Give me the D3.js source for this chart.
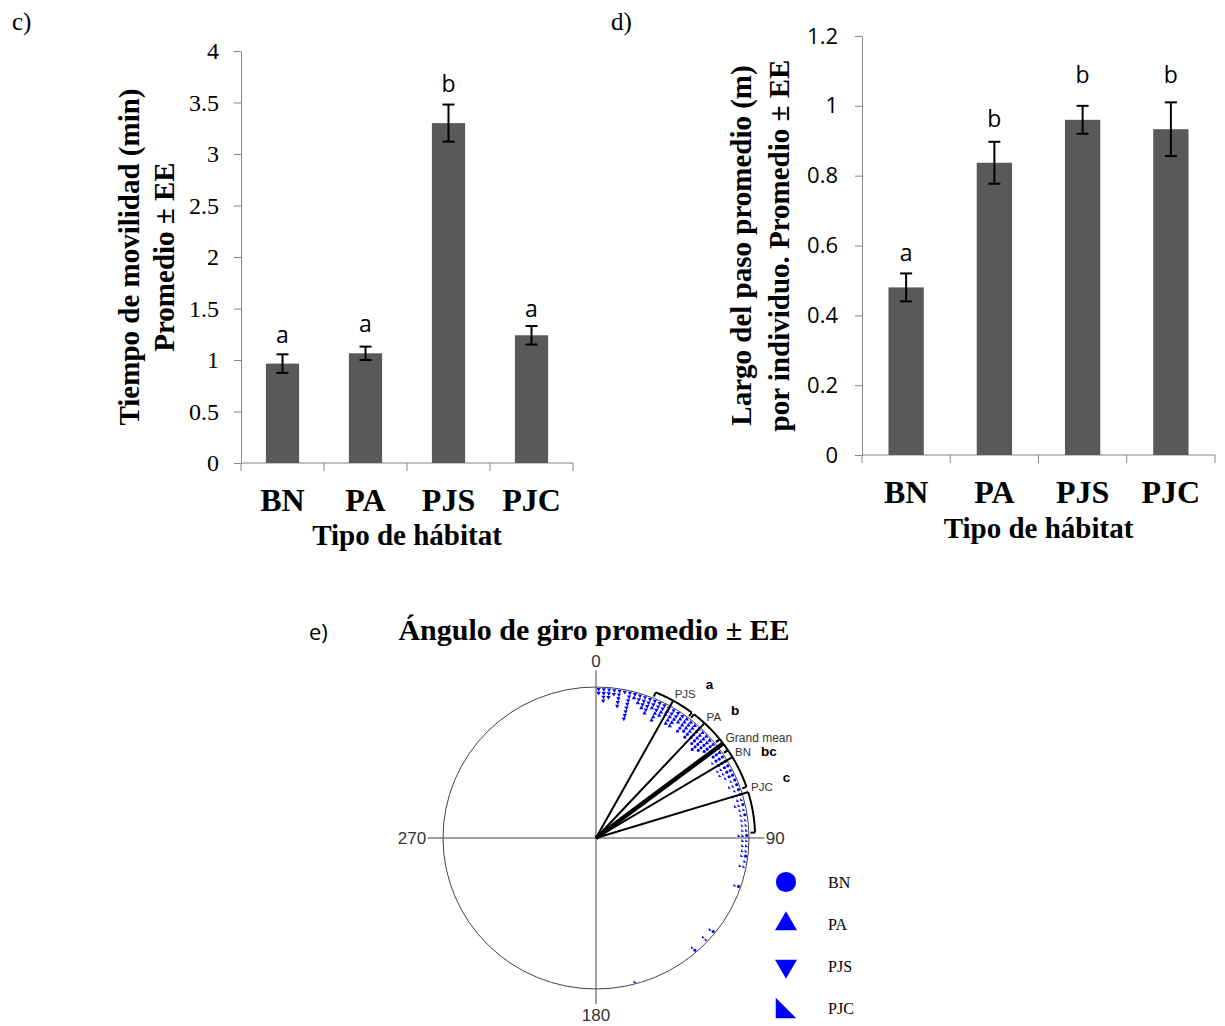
<!DOCTYPE html>
<html lang="es">
<head>
<meta charset="UTF-8">
<title>Movilidad por tipo de hábitat</title>
<script src="https://cdn.jsdelivr.net/npm/d3@7"></script>
<style>
  body { margin: 0; background: #fff; }
  svg { display: block; }
  .serif { font-family: "Liberation Serif", "Times New Roman", serif; }
  .sans { font-family: "Liberation Sans", Arial, sans-serif; }
  .calibri { font-family: "Open Sans", "Liberation Sans", sans-serif; }
</style>
</head>
<body>
<svg id="fig" width="1225" height="1026"></svg>
<script>
const habitats = ["BN", "PA", "PJS", "PJC"];

// c) tiempo de movilidad (min)
const timeMean = [0.965, 1.065, 3.3, 1.24];
const timeSE = [0.09, 0.065, 0.18, 0.09];
const timeLetters = ["a", "a", "b", "a"];
const timeLetterAt = [1.165, 1.27, 3.6, 1.42];
const timeTicks = [0, 0.5, 1, 1.5, 2, 2.5, 3, 3.5, 4];

// d) largo del paso (m)
const stepMean = [0.48, 0.837, 0.96, 0.933];
const stepSE = [0.04, 0.06, 0.04, 0.077];
const stepLetters = ["a", "b", "b", "b"];
const stepLetterAt = [0.555, 0.94, 1.065, 1.065];
const stepTicks = [0, 0.2, 0.4, 0.6, 0.8, 1, 1.2];

// e) ángulo de giro (grados)
const meanNames = ["PJS", "PA", "Grand mean", "BN", "PJC"];
const meanAngle = [29, 43, 53, 59, 73];
const seFrom = [22, 38, 51, 56, 73];
const seTo = [37, 51, 56, 71, 88];
const meanLetters = ["a", "b", "", "bc", "c"];
const compassTicks = [0, 90, 180, 270];

// individual turning angles
const anglesPJS = [1, 1, 3, 3, 3, 3, 5, 5, 5, 7, 7, 9, 9, 9, 9, 9, 11, 13, 13, 13, 13, 13, 13, 13, 13, 15, 17, 17, 19, 19, 19, 21, 21, 21, 21, 23, 23, 25, 25, 25, 27, 27, 29, 31, 31, 33, 33, 35];
const anglesPA = [15, 17, 19, 21, 23, 25, 25, 25, 27, 27, 29, 29, 31, 31, 31, 33, 33, 33, 35, 35, 37, 37, 37, 39, 39, 39, 41, 41, 41, 43, 43, 45, 45, 45, 47, 47, 47, 49, 49, 51, 53, 55];
const anglesBN = [37, 37, 39, 41, 41, 43, 43, 45, 45, 47, 47, 47, 49, 49, 49, 51, 51, 51, 53, 53, 55, 55, 57, 57, 57, 59, 59, 59, 61, 61, 63, 63, 65, 65, 67, 69, 71, 73, 77, 81, 89, 97, 109, 129, 139];
const anglesPJC = [53, 57, 61, 61, 63, 63, 65, 67, 69, 69, 71, 73, 73, 75, 75, 77, 77, 79, 79, 81, 83, 83, 85, 85, 87, 87, 89, 89, 91, 91, 93, 93, 95, 95, 97, 99, 101, 101, 109, 129, 133, 133, 139, 165];

const svg = d3.select("#fig");
const axisGray = "#868686";
const barFill = "#595959";

function barPanel(opt) {
  const g = svg.append("g");
  const x = d3.scaleBand().domain(habitats)
    .range([opt.left, opt.right]).paddingInner(0.6).paddingOuter(0.3);
  const y = d3.scaleLinear().domain(opt.domain).range([opt.bottom, opt.top]);

  // y axis
  const ya = g.append("g")
    .attr("transform", `translate(${opt.left},0)`)
    .call(d3.axisLeft(y).tickValues(opt.ticks).tickSize(7)
      .tickSizeOuter(0).tickPadding(opt.tickPad).tickFormat(d3.format("")));
  ya.selectAll("path, line").attr("stroke", axisGray);
  ya.selectAll("text")
    .attr("class", opt.tickFont)
    .style("font-size", opt.tickSize + "px")
    .attr("fill", "#000");

  // x axis with category boundary ticks
  g.append("line")
    .attr("x1", opt.left).attr("x2", opt.right)
    .attr("y1", y(0)).attr("y2", y(0))
    .attr("stroke", axisGray);
  g.selectAll(".bound").data(d3.range(habitats.length + 1)).join("line")
    .attr("x1", i => opt.left + i * x.step())
    .attr("x2", i => opt.left + i * x.step())
    .attr("y1", y(0)).attr("y2", y(0) + 8)
    .attr("stroke", axisGray);

  // bars
  g.selectAll(".bar").data(habitats).join("rect")
    .attr("x", d => x(d)).attr("width", x.bandwidth())
    .attr("y", (d, i) => y(opt.mean[i]))
    .attr("height", (d, i) => y(0) - y(opt.mean[i]))
    .attr("fill", barFill);

  // error bars
  const eb = g.selectAll(".err").data(habitats).join("g")
    .attr("transform", d => `translate(${x(d) + x.bandwidth() / 2},0)`)
    .attr("stroke", "#000").attr("stroke-width", 2);
  eb.append("line")
    .attr("y1", (d, i) => y(opt.mean[i] + opt.se[i]))
    .attr("y2", (d, i) => y(opt.mean[i] - opt.se[i]));
  [1, -1].forEach(s => {
    eb.append("line").attr("x1", -6).attr("x2", 6)
      .attr("y1", (d, i) => y(opt.mean[i] + s * opt.se[i]))
      .attr("y2", (d, i) => y(opt.mean[i] + s * opt.se[i]));
  });

  // significance letters
  g.selectAll(".let").data(habitats).join("text")
    .attr("class", "calibri")
    .attr("x", d => x(d) + x.bandwidth() / 2)
    .attr("y", (d, i) => y(opt.letterAt[i]))
    .attr("text-anchor", "middle")
    .style("font-size", "23px")
    .text((d, i) => opt.letters[i]);

  // category labels
  g.selectAll(".cat").data(habitats).join("text")
    .attr("class", "serif")
    .attr("x", d => x(d) + x.bandwidth() / 2)
    .attr("y", opt.catY)
    .attr("text-anchor", "middle")
    .style("font-size", "32px").style("font-weight", "bold")
    .text(d => d);

  g.append("text")
    .attr("class", "serif")
    .attr("x", (opt.left + opt.right) / 2).attr("y", opt.titleY)
    .attr("text-anchor", "middle")
    .style("font-size", "29px").style("font-weight", "bold")
    .text("Tipo de hábitat");

  // rotated y title
  opt.ylab.forEach((t, k) => {
    g.append("text")
      .attr("class", "serif")
      .attr("transform", `translate(${opt.ylabX[k]},${(opt.top + opt.bottom) / 2}) rotate(-90)`)
      .attr("text-anchor", "middle")
      .style("font-size", "29px").style("font-weight", "bold")
      .text(t);
  });

  svg.append("text")
    .attr("class", "serif")
    .attr("x", opt.tagX).attr("y", 30)
    .style("font-size", "25px")
    .text(opt.tag);
}

barPanel({
  left: 241, right: 573, top: 51, bottom: 463,
  domain: [0, 4], ticks: timeTicks, tickPad: 15, tickFont: "serif", tickSize: 24,
  mean: timeMean, se: timeSE, letters: timeLetters, letterAt: timeLetterAt,
  catY: 511, titleY: 545,
  ylab: ["Tiempo de movilidad (min)", "Promedio ± EE"], ylabX: [139, 174],
  tag: "c)", tagX: 12
});

barPanel({
  left: 862, right: 1215, top: 36, bottom: 455,
  domain: [0, 1.2], ticks: stepTicks, tickPad: 17, tickFont: "calibri", tickSize: 22,
  mean: stepMean, se: stepSE, letters: stepLetters, letterAt: stepLetterAt,
  catY: 503, titleY: 538,
  ylab: ["Largo del paso promedio (m)", "por individuo. Promedio ± EE"], ylabX: [751, 789],
  tag: "d)", tagX: 611
});

// ---- e) circular plot ----
const cx = 596, cy = 838;
const px = d3.scaleLinear().domain([-1, 1]).range([cx - 153, cx + 153]);
const py = d3.scaleLinear().domain([-1, 1]).range([cy + 151, cy - 151]);
const rad = d3.scaleLinear().domain([0, 360]).range([0, 2 * Math.PI]);
const pt = (deg, r) => [px(r * Math.sin(rad(deg))), py(r * Math.cos(rad(deg)))];

const pg = svg.append("g");

pg.append("ellipse")
  .attr("cx", px(0)).attr("cy", py(0))
  .attr("rx", px(1) - px(0)).attr("ry", py(-1) - py(0))
  .attr("fill", "none").attr("stroke", "#444").attr("stroke-width", 1);

pg.append("line")
  .attr("x1", px(0)).attr("x2", px(0))
  .attr("y1", py(1.11)).attr("y2", py(-1.1))
  .attr("stroke", "#444");
pg.append("line")
  .attr("x1", px(-1.1)).attr("x2", px(1.1))
  .attr("y1", py(0)).attr("y2", py(0))
  .attr("stroke", "#444");

const lab = {
  0: { a: "middle", r: 1.13, dy: 0 },
  90: { a: "start", r: 1.11, dy: 6 },
  180: { a: "middle", r: 1.21, dy: 0 },
  270: { a: "end", r: 1.11, dy: 6 }
};
pg.selectAll(".cmp").data(compassTicks).join("text")
  .attr("class", "sans")
  .attr("x", d => pt(d, lab[d].r)[0])
  .attr("y", d => pt(d, lab[d].r)[1] + lab[d].dy)
  .attr("text-anchor", d => lab[d].a)
  .attr("fill", "#333")
  .style("font-size", "17px")
  .text(d => d);

// observations stacked inward per 2-degree bin
const rightTri = {
  draw(ctx, size) {
    const s = Math.sqrt(size);
    ctx.moveTo(-s / 2, -s / 2);
    ctx.lineTo(s / 2, s / 2);
    ctx.lineTo(-s / 2, s / 2);
    ctx.closePath();
  }
};
const shapes = {
  BN: { type: d3.symbolCircle, rot: 0 },
  PA: { type: d3.symbolTriangle, rot: 0 },
  PJS: { type: d3.symbolTriangle, rot: 180 },
  PJC: { type: rightTri, rot: 0 }
};
const obs = [].concat(
  anglesPJS.map(a => ({ a, g: "PJS" })),
  anglesPA.map(a => ({ a, g: "PA" })),
  anglesBN.map(a => ({ a, g: "BN" })),
  anglesPJC.map(a => ({ a, g: "PJC" }))
);
const stack = new Map();
obs.forEach(d => {
  const b = Math.floor(d.a / 2);
  const k = stack.get(b) || 0;
  stack.set(b, k + 1);
  d.r = 0.985 - k * 0.025;
});
pg.selectAll(".obs").data(obs).join("path")
  .attr("transform", d => {
    const [x, y] = pt(d.a, d.r);
    return `translate(${x},${y}) rotate(${shapes[d.g].rot})`;
  })
  .attr("d", d => d3.symbol().type(shapes[d.g].type).size(8)())
  .attr("fill", "#0000ff");

// mean vectors and SE brackets
const arcR = 1.04;
const arcLine = d3.line();
const letterDy = [-9, -6, 0, 0, -9];
meanNames.forEach((name, i) => {
  pg.append("line")
    .attr("x1", px(0)).attr("y1", py(0))
    .attr("x2", pt(meanAngle[i], arcR)[0]).attr("y2", pt(meanAngle[i], arcR)[1])
    .attr("stroke", "#000")
    .attr("stroke-width", name === "Grand mean" ? 4.5 : 2);
  const steps = d3.range(seFrom[i], seTo[i] + 0.01, 0.5);
  pg.append("path")
    .attr("d", arcLine(steps.map(a => pt(a, arcR))))
    .attr("fill", "none").attr("stroke", "#000").attr("stroke-width", 2);
  [seFrom[i], seTo[i]].forEach(a => {
    const p0 = pt(a, arcR), p1 = pt(a, arcR - 0.03);
    pg.append("line")
      .attr("x1", p0[0]).attr("y1", p0[1]).attr("x2", p1[0]).attr("y2", p1[1])
      .attr("stroke", "#000").attr("stroke-width", 2);
  });
  const lp = pt(meanAngle[i], 1.06);
  const t = pg.append("text")
    .attr("class", "sans")
    .attr("x", lp[0]).attr("y", lp[1])
    .attr("fill", "#333")
    .style("font-size", name === "Grand mean" ? "12px" : "11.5px")
    .text(name);
  if (meanLetters[i]) {
    const w = t.node().getComputedTextLength();
    pg.append("text")
      .attr("class", "sans")
      .attr("x", lp[0] + w + 10).attr("y", lp[1] + letterDy[i])
      .style("font-size", "13.5px").style("font-weight", "bold")
      .text(meanLetters[i]);
  }
});

// title
svg.append("text")
  .attr("class", "serif")
  .attr("x", 594).attr("y", 640)
  .attr("text-anchor", "middle")
  .style("font-size", "30px").style("font-weight", "bold")
  .text("Ángulo de giro promedio ± EE");
svg.append("text")
  .attr("class", "calibri")
  .attr("x", 309).attr("y", 640)
  .style("font-size", "22px")
  .text("e)");

// legend
const legend = svg.append("g").attr("transform", "translate(786,882)");
const legRow = legend.selectAll("g").data(habitats).join("g")
  .attr("transform", (d, i) => `translate(0,${i * 42})`);
legRow.append("path")
  .attr("transform", d => `rotate(${shapes[d].rot})`)
  .attr("d", d => d3.symbol().type(shapes[d].type)
    .size(d === "BN" ? 320 : d === "PJC" ? 420 : 210)())
  .attr("fill", "#0000ff");
legRow.append("text")
  .attr("class", "serif")
  .attr("x", 42).attr("y", 6)
  .style("font-size", "16px")
  .text(d => d);
</script>
</body>
</html>
